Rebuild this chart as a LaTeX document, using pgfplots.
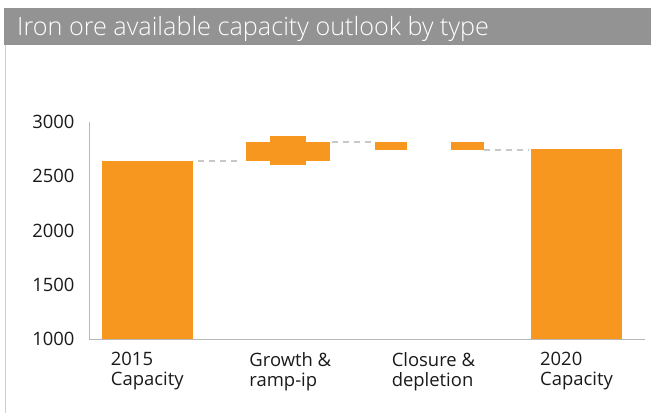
\documentclass[border=0pt]{standalone}
\usepackage{fontspec}
\setmainfont{Open Sans}
\newfontfamily\titlefont{Open Sans Light}
\usepackage{pgfplots}
\pgfplotsset{compat=1.18}
\definecolor{barorange}{HTML}{F7971F}
\definecolor{titlegray}{HTML}{939393}
\definecolor{dashgray}{HTML}{C8C8C8}
\definecolor{axisgray}{HTML}{B8B8B8}
\definecolor{textdark}{HTML}{1A1A1A}
\begin{document}
\begin{tikzpicture}
\useasboundingbox (0,0) rectangle (651bp,-413bp);
\fill[titlegray] (4bp,-8bp) rectangle (651bp,-45bp);
\node[anchor=base west, text=white, font=\titlefont\fontsize{25.3}{28}\selectfont, inner sep=0pt] at (17bp,-35bp) {Iron ore available capacity outlook by type};
\draw[color=black!20, line width=1.5bp] (5.5bp,-45bp) -- (5.5bp,-413bp);
\begin{axis}[
  at={(89bp,-339bp)}, anchor=south west,
  scale only axis, width=556bp, height=217bp,
  xmin=-0.407, xmax=3.479, ymin=1000, ymax=3000,
  axis x line*=bottom, axis y line*=left,
  axis line style={-, color=axisgray, line width=1bp},
  ytick={1000,1500,2000,2500,3000},
  xtick={0,1,2,3},
  xticklabels={{2015\\Capacity},{Growth \&\\ramp-ip},{Closure \&\\depletion},{2020\\Capacity}},
  major tick length=0pt,
  /pgf/number format/assume math mode=true,
  /pgf/number format/set thousands separator={},
  xticklabel style={align=left, font=\fontsize{18.5}{20}\selectfont, text=textdark, yshift=-10bp},
  yticklabel style={font=\fontsize{18.5}{20}\selectfont, text=textdark, xshift=-11bp},
  clip=false,
]
\addplot[fill=barorange, draw=none] coordinates {(-0.318,1000) (0.318,1000) (0.318,2640) (-0.318,2640)} -- cycle;
\addplot[fill=barorange, draw=none] coordinates {(0.690,2645) (1.277,2645) (1.277,2815) (0.690,2815)} -- cycle;
\addplot[fill=barorange, draw=none] coordinates {(0.858,2600) (1.110,2600) (1.110,2870) (0.858,2870)} -- cycle;
\addplot[fill=barorange, draw=none] coordinates {(1.592,2745) (1.816,2745) (1.816,2815) (1.592,2815)} -- cycle;
\addplot[fill=barorange, draw=none] coordinates {(2.123,2745) (2.354,2745) (2.354,2815) (2.123,2815)} -- cycle;
\addplot[fill=barorange, draw=none] coordinates {(2.682,1000) (3.318,1000) (3.318,2750) (2.682,2750)} -- cycle;
\addplot[dashgray, line width=1.6bp, dash pattern=on 6bp off 5bp] coordinates {(0.355,2640) (0.662,2640)};
\addplot[dashgray, line width=1.6bp, dash pattern=on 6bp off 5bp] coordinates {(1.291,2815) (1.592,2815)};
\addplot[dashgray, line width=1.6bp, dash pattern=on 6bp off 5bp] coordinates {(2.354,2740) (2.662,2740)};
\end{axis}
\end{tikzpicture}
\end{document}
